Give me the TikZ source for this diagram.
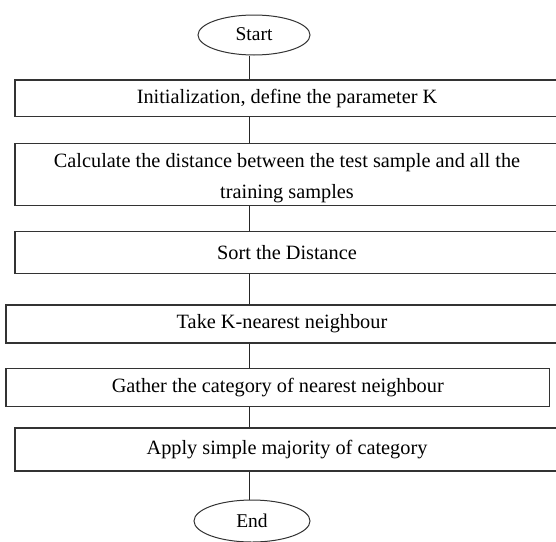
\documentclass[tikz,border=0pt]{standalone}
\usepackage{fontspec}
\setmainfont{Liberation Serif}
\usepackage{tikz}
\usetikzlibrary{shapes}
\usetikzlibrary{positioning}
\usetikzlibrary{calc}
\tikzstyle{process}=[rectangle, draw=black!80, line width=1.1pt, fill=white, inner sep=0pt, align=center, font=\fontsize{20.3}{30}\selectfont]
\tikzstyle{terminal}=[ellipse, draw=black!80, line width=1pt, fill=white, inner sep=0pt, font=\fontsize{19.5}{23}\selectfont]
\begin{document}
\begin{tikzpicture}[x=1pt, y=-1pt]
	\useasboundingbox (0,0) rectangle (556,541);
	\node (start) at (254,35) [terminal, minimum width=112pt, minimum height=40pt] {\raisebox{2pt}{Start}};
	\node (init) at (287,98.3) [process, minimum width=544pt, minimum height=36.7pt] {Initialization, define the parameter K};
	\node (dist) at (287,174.5) [process, minimum width=544pt, minimum height=62.5pt] {\raisebox{-24pt}[0pt][0pt]{\shortstack{Calculate the distance between the test sample and all the\\[10pt]training samples}}};
	\node (sort) at (287,252.6) [process, minimum width=544pt, minimum height=41.8pt] {Sort the Distance};
	\node (knn) at (282,324) [process, minimum width=552pt, minimum height=38pt] {Take K-nearest neighbour};
	\node (gather) at (277.75,387.5) [process, minimum width=543.5pt, minimum height=38pt] {Gather the category of nearest neighbour};
	\node (vote) at (287,449.5) [process, minimum width=544pt, minimum height=43pt] {Apply simple majority of category};
	\node (end) at (252,521) [terminal, minimum width=116pt, minimum height=42pt] {End};
	\coordinate (spine) at (249.5,0);
	\path[-, line width=1pt, black!85]
		(spine |- start.south) edge (spine |- init.north)
		(spine |- init.south) edge (spine |- dist.north)
		(spine |- dist.south) edge (spine |- sort.north)
		(spine |- sort.south) edge (spine |- knn.north)
		(spine |- knn.south) edge (spine |- gather.north)
		(spine |- gather.south) edge (spine |- vote.north)
		(spine |- vote.south) edge (spine |- end.north);
\end{tikzpicture}
\end{document}
